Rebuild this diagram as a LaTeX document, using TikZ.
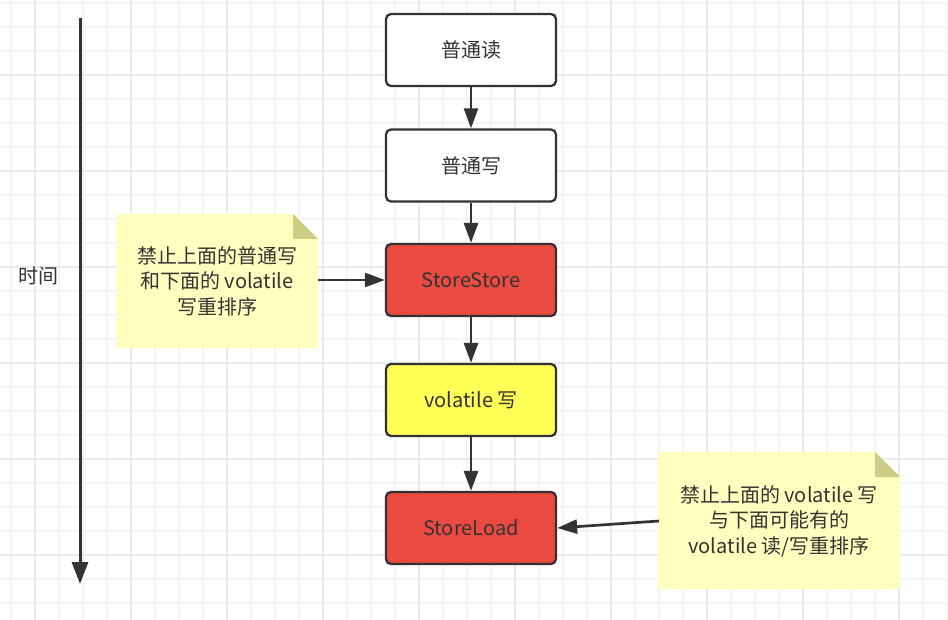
\documentclass[tikz,border=0pt]{standalone}
\usepackage{fontspec}
\setmainfont{Noto Sans CJK SC}
\usetikzlibrary{arrows.meta}
\definecolor{ink}{HTML}{333333}
\definecolor{gridminor}{HTML}{F4F4F4}
\definecolor{gridmajor}{HTML}{EAEAEA}
\definecolor{boxred}{HTML}{EA4A40}
\definecolor{boxyellow}{HTML}{FFFF58}
\definecolor{notefill}{HTML}{FFFFC0}
\definecolor{notefold}{HTML}{CDCD86}
\tikzset{
  stepbox/.style={draw=ink, line width=2.3pt, rounded corners=5pt, minimum width=170pt, minimum height=72pt, inner sep=0pt, text=ink, font=\fontsize{20}{24}\selectfont},
  conn/.style={draw=ink, line width=2.7pt, -{Triangle[length=20pt,width=14pt]}},
  notetext/.style={text=ink, align=center, font=\fontsize{20}{25.5}\selectfont, inner sep=0pt},
}
\begin{document}
\begin{tikzpicture}[x=1pt,y=-1pt]
\useasboundingbox (0,0) rectangle (948,620);
\fill[white] (0,0) rectangle (948,620);
% grid
\foreach \gx in {11,35,...,947} \draw[gridminor, line width=1.2pt] (\gx,0) -- (\gx,620);
\foreach \gy in {3,27,...,620} \draw[gridminor, line width=1.2pt] (0,\gy) -- (948,\gy);
\foreach \gx in {35,131,...,947} \draw[gridmajor, line width=1.2pt] (\gx,0) -- (\gx,620);
\foreach \gy in {75,171,...,620} \draw[gridmajor, line width=1.2pt] (0,\gy) -- (948,\gy);

% timeline
\coordinate (tTop) at (80,18);
\coordinate (tBot) at (80,584);
\draw[draw=ink, line width=3pt, -{Triangle[length=22pt,width=16pt]}] (tTop) -- (tBot);
\node[text=ink, font=\fontsize{20}{24}\selectfont, inner sep=0pt] (time) at (38,276) {时间};

% boxes
\node[stepbox, fill=white] (r) at (471,50) {普通读};
\node[stepbox, fill=white] (w) at (471,165.5) {普通写};
\node[stepbox, fill=boxred] (ss) at (471,280) {StoreStore};
\node[stepbox, fill=boxyellow] (vw) at (471,400) {volatile 写};
\node[stepbox, fill=boxred] (sl) at (471,528) {StoreLoad};

\draw[conn] (r) -- (w);
\draw[conn] (w) -- (ss);
\draw[conn] (ss) -- (vw);
\draw[conn] (vw) -- (sl);

% note 1
\fill[notefill] (116,214) -- (293,214) -- (318,239) -- (318,348) -- (116,348) -- cycle;
\fill[notefold] (293,214) -- (293,239) -- (318,239) -- cycle;
\node[notetext] (n1) at (217,281) {禁止上面的普通写\\和下面的 volatile\\写重排序};
\coordinate (n1e) at (318,280);
\draw[conn] (n1e) -- (ss.west);

% note 2
\fill[notefill] (658,452) -- (875,452) -- (900,477) -- (900,589) -- (658,589) -- cycle;
\fill[notefold] (875,452) -- (875,477) -- (900,477) -- cycle;
\node[notetext] (n2) at (779,521) {禁止上面的 volatile 写\\与下面可能有的\\volatile 读/写重排序};
\coordinate (n2w) at (659,521);
\draw[conn] (n2w) -- (sl.east);
\end{tikzpicture}
\end{document}
